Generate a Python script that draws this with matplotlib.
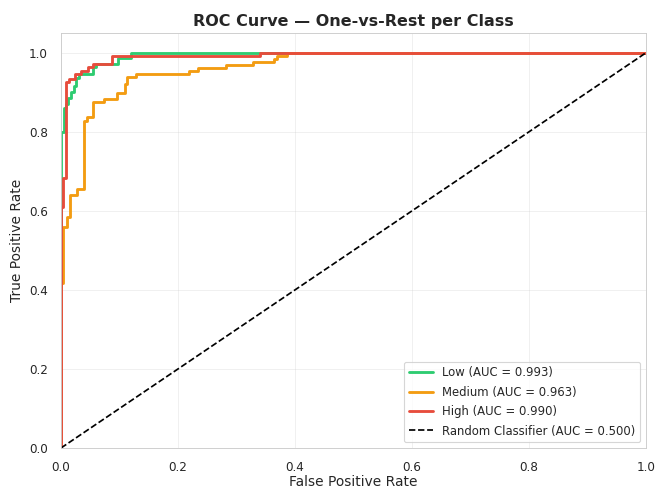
import matplotlib
matplotlib.use("Agg")
import matplotlib.pyplot as plt
import seaborn as sns

sns.set_style("whitegrid")
plt.rcParams['font.family'] = ['DejaVu Sans']

class_names = ["Low", "Medium", "High"]
auc_values = [0.993, 0.963, 0.990]
colors = ["#2ecc71", "#f39c12", "#e74c3c"]

low_fpr = [0, 0, 0.005, 0.005, 0.008, 0.008, 0.012, 0.012, 0.017, 0.017, 0.022, 0.022,
           0.026, 0.026, 0.030, 0.030, 0.055, 0.055, 0.060, 0.060, 0.098, 0.098, 0.119, 0.119, 1.0]
low_tpr = [0, 0.80, 0.80, 0.86, 0.86, 0.87, 0.87, 0.885, 0.885, 0.90, 0.90, 0.915,
           0.915, 0.935, 0.935, 0.946, 0.946, 0.963, 0.963, 0.971, 0.971, 0.987, 0.987, 1.0, 1.0]

med_fpr = [0, 0, 0.004, 0.004, 0.011, 0.011, 0.015, 0.015, 0.027, 0.027, 0.040, 0.040,
           0.044, 0.044, 0.055, 0.055, 0.074, 0.074, 0.095, 0.095, 0.109, 0.109, 0.113, 0.113,
           0.129, 0.129, 0.218, 0.218, 0.235, 0.235, 0.282, 0.282, 0.328, 0.328, 0.364, 0.364,
           0.369, 0.369, 0.386, 0.386, 1.0]
med_tpr = [0, 0.417, 0.417, 0.559, 0.559, 0.584, 0.584, 0.639, 0.639, 0.656, 0.656, 0.827,
           0.827, 0.837, 0.837, 0.875, 0.875, 0.883, 0.883, 0.898, 0.898, 0.921, 0.921, 0.938,
           0.938, 0.946, 0.946, 0.953, 0.953, 0.961, 0.961, 0.968, 0.968, 0.977, 0.977, 0.984,
           0.984, 0.992, 0.992, 1.0, 1.0]

high_fpr = [0, 0, 0.003, 0.003, 0.008, 0.008, 0.013, 0.013, 0.024, 0.024, 0.034, 0.034,
            0.047, 0.047, 0.055, 0.055, 0.087, 0.087, 0.340, 0.340, 1.0]
high_tpr = [0, 0.609, 0.609, 0.682, 0.682, 0.925, 0.925, 0.933, 0.933, 0.946, 0.946, 0.955,
            0.955, 0.963, 0.963, 0.971, 0.971, 0.992, 0.992, 1.0, 1.0]

fprs = [low_fpr, med_fpr, high_fpr]
tprs = [low_tpr, med_tpr, high_tpr]

DPI = 657 / 8
fig = plt.figure(figsize=(8, 488 / DPI), dpi=DPI)
ax = fig.add_axes([61/657, 1-448/488, (646-61)/657, (448-33)/488])

for name, auc, c, f, t in zip(class_names, auc_values, colors, fprs, tprs):
    ax.plot(f, t, color=c, lw=2.5, label=f"{name} (AUC = {auc:.3f})")
ax.plot([0, 1], [0, 1], 'k--', lw=1.5, label="Random Classifier (AUC = 0.500)")

ax.set_xlim(0, 1)
ax.set_ylim(0, 1.05)
ax.tick_params(axis='both', labelsize=10.5, pad=8)
ax.set_xlabel("False Positive Rate", fontsize=12, labelpad=1)
ax.set_ylabel("True Positive Rate", fontsize=12, labelpad=4)
ax.set_title("ROC Curve — One-vs-Rest per Class", fontsize=14, fontweight='bold')
ax.grid(True, alpha=0.3)
ax.legend(loc="lower right", fontsize=10.2, labelspacing=0.55, handlelength=2.1,
          borderaxespad=0.5)

fig.savefig("out.png", dpi=DPI)
